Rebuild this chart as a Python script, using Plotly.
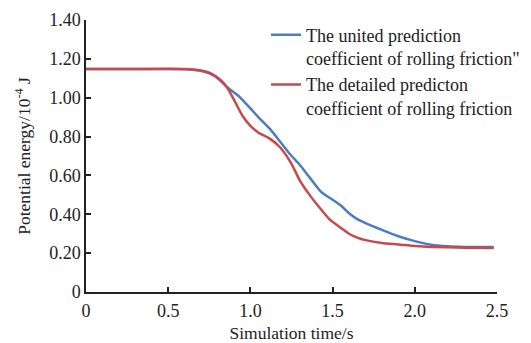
import plotly.graph_objects as go

# Data
t_blue = [0, 0.3, 0.6, 0.69, 0.75, 0.8, 0.865, 0.92, 0.95, 1.0, 1.06, 1.12, 1.18, 1.24,
          1.30, 1.36, 1.43, 1.5, 1.55, 1.6, 1.65, 1.7, 1.8, 1.9, 2.0, 2.1, 2.2, 2.3, 2.48]
e_blue = [1.148, 1.148, 1.147, 1.14, 1.125, 1.10, 1.05, 1.015, 0.99, 0.945, 0.89, 0.838, 0.775, 0.71,
          0.655, 0.59, 0.515, 0.475, 0.445, 0.405, 0.375, 0.355, 0.32, 0.287, 0.262, 0.243, 0.235, 0.232, 0.232]

t_red = [0, 0.3, 0.6, 0.7, 0.76, 0.82, 0.86, 0.90, 0.95, 1.0, 1.05, 1.12, 1.18, 1.25, 1.3,
         1.36, 1.42, 1.48, 1.55, 1.6, 1.65, 1.7, 1.8, 1.9, 2.0, 2.1, 2.3, 2.48]
e_red = [1.148, 1.148, 1.148, 1.14, 1.125, 1.09, 1.05, 0.99, 0.91, 0.855, 0.82, 0.788, 0.745, 0.66, 0.575,
         0.50, 0.435, 0.375, 0.33, 0.30, 0.28, 0.267, 0.252, 0.245, 0.237, 0.232, 0.228, 0.226]

name_blue = "The united prediction<br>coefficient of rolling friction\""
name_red = "The detailed predicton<br>coefficient of rolling friction"

y_ticks = [0, 0.2, 0.4, 0.6, 0.8, 1.0, 1.2, 1.4]
y_labels = ["0", "0.20", "0.40", "0.60", "0.80", "1.00", "1.20", "1.40"]
x_ticks = [0, 0.5, 1.0, 1.5, 2.0, 2.5]
x_labels = ["0", "0.5", "1.0", "1.5", "2.0", "2.5"]

FONT = "Liberation Serif"

fig = go.Figure()
fig.add_trace(go.Scatter(x=t_blue, y=e_blue, mode="lines", name=name_blue,
                         line=dict(color="#4a7ec0", width=2.5, shape="spline", smoothing=0.6)))
fig.add_trace(go.Scatter(x=t_red, y=e_red, mode="lines", name=name_red,
                         line=dict(color="#c44a4c", width=2.5, shape="spline", smoothing=0.6)))

fig.update_layout(
    width=531, height=343,
    margin=dict(l=86, r=34, t=20, b=51, autoexpand=False),
    paper_bgcolor="white", plot_bgcolor="white",
    font=dict(family=FONT, size=18, color="#222"),
    showlegend=True,
    legend=dict(xref="container", yref="container", x=0.501, y=0.952,
                xanchor="left", yanchor="top",
                bgcolor="rgba(0,0,0,0)", font=dict(family=FONT, size=18, color="#222"),
                itemwidth=30, valign="top", tracegroupgap=0),
    xaxis=dict(range=[0, 2.5], tickvals=x_ticks, ticktext=x_labels, automargin=False,
               showgrid=False, zeroline=False, showline=True, linecolor="#222", linewidth=1.5,
               ticks="inside", ticklen=5, tickcolor="#222", tickwidth=1.5,
               tickfont=dict(family=FONT, size=18), ticklabelstandoff=2,
               title=dict(text="Simulation time/s", font=dict(family=FONT, size=17.5), standoff=10)),
    yaxis=dict(range=[0, 1.4], tickvals=y_ticks, ticktext=y_labels, automargin=False,
               showgrid=False, zeroline=False, showline=True, linecolor="#222", linewidth=1.5,
               ticks="inside", ticklen=5, tickcolor="#222", tickwidth=1.5,
               tickfont=dict(family=FONT, size=18),
               title=dict(text="Potential energy/10<sup>-4</sup> J", font=dict(family=FONT, size=17.5), standoff=14)),
)

fig.write_html("out.html")
